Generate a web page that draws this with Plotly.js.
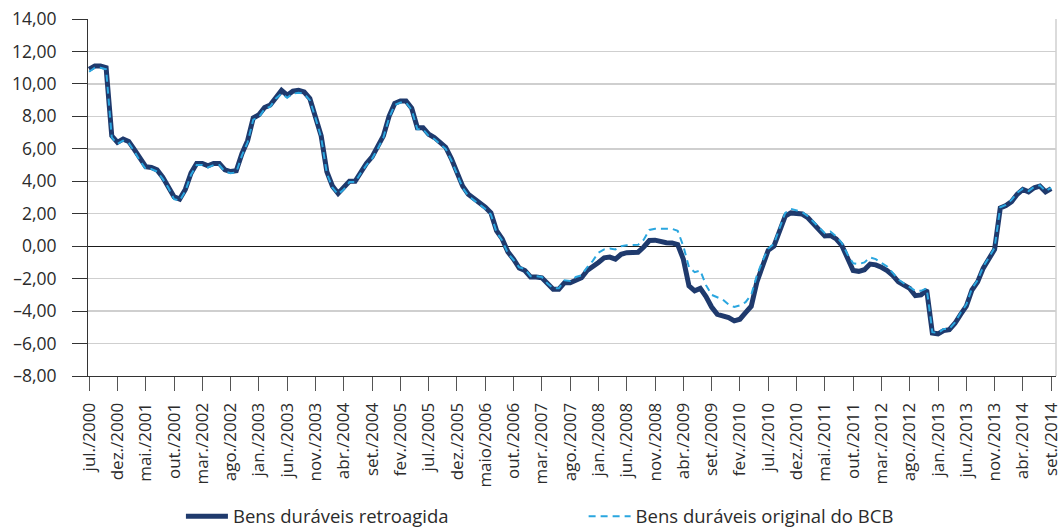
<!DOCTYPE html>
<html>
<head>
<meta charset="utf-8">
<script src="https://cdn.plot.ly/plotly-3.0.1.min.js"></script>
<style>html,body{margin:0;padding:0;background:#fff;}#chart{width:1061px;height:531px;}</style>
</head>
<body>
<div id="chart"></div>
<script>
// Monthly categories: jul/2000 .. set/2014
var startYear = 2000, startMonth = 7, nMonths = 171;
var months = [];
for (var k = 0; k < nMonths; k++) {
  var m = (startMonth - 1 + k) % 12 + 1;
  var y = startYear + Math.floor((startMonth - 1 + k) / 12);
  months.push(y + '-' + (m < 10 ? '0' + m : m));
}

var tickLabels = ['jul./2000','dez./2000','mai./2001','out./2001','mar./2002','ago./2002','jan./2003','jun./2003','nov./2003','abr./2004','set./2004','fev./2005','jul./2005','dez./2005','maio/2006','out./2006','mar./2007','ago./2007','jan./2008','jun./2008','nov./2008','abr./2009','set./2009','fev./2010','jul./2010','dez./2010','mai./2011','out./2011','mar./2012','ago./2012','jan./2013','jun./2013','nov./2013','abr./2014','set./2014'];

var retroagida = [
 10.9, 11.1, 11.1, 11.0, 6.8, 6.4, 6.6, 6.45, 5.95, 5.35,
 4.9, 4.85, 4.7, 4.25, 3.7, 3.05, 2.9, 3.5, 4.5, 5.1,
 5.1, 4.95, 5.1, 5.1, 4.7, 4.6, 4.65, 5.7, 6.5, 7.9,
 8.1, 8.55, 8.7, 9.2, 9.6, 9.3, 9.55, 9.6, 9.5, 9.1,
 8.0, 6.8, 4.6, 3.7, 3.25, 3.6, 4.0, 4.0, 4.6, 5.1,
 5.5, 6.1, 6.8, 8.0, 8.8, 8.95, 8.95, 8.5, 7.3, 7.3,
 6.9, 6.7, 6.4, 6.1, 5.4, 4.6, 3.7, 3.2, 2.95, 2.7,
 2.4, 2.05, 0.95, 0.45, -0.35, -0.8, -1.35, -1.5, -1.9, -1.9,
 -1.95, -2.3, -2.65, -2.65, -2.25, -2.25, -2.1, -1.95, -1.5, -1.2,
 -1.0, -0.72, -0.67, -0.8, -0.5, -0.4, -0.37, -0.37, -0.05, 0.35,
 0.37, 0.25, 0.21, 0.2, 0.1, -0.8, -2.45, -2.75, -2.6, -3.1,
 -3.75, -4.2, -4.28, -4.4, -4.6, -4.5, -4.1, -3.7, -2.2, -1.1,
 -0.25, 0.0, 0.95, 1.85, 2.05, 2.03, 1.98, 1.75, 1.4, 1.0,
 0.63, 0.66, 0.45, 0.05, -0.75, -1.5, -1.55, -1.45, -1.1, -1.15,
 -1.3, -1.5, -1.8, -2.2, -2.4, -2.6, -3.05, -3.0, -2.7, -5.35,
 -5.4, -5.2, -5.15, -4.75, -4.2, -3.7, -2.7, -2.2, -1.35, -0.8,
 -0.2, 2.35, 2.5, 2.75, 3.2, 3.5, 3.35, 3.6, 3.7, 3.35, 3.55
];

var originalBCB = [
 10.75, 11.0, 11.0, 10.9, 6.7, 6.3, 6.5, 6.35, 5.85, 5.25,
 4.75, 4.75, 4.6, 4.15, 3.6, 2.9, 2.8, 3.4, 4.4, 5.0,
 5.0, 4.85, 5.0, 5.0, 4.6, 4.5, 4.55, 5.6, 6.4, 7.8,
 7.95, 8.45, 8.6, 9.1, 9.4, 9.15, 9.4, 9.45, 9.4, 9.0,
 7.9, 6.7, 4.5, 3.6, 3.2, 3.5, 3.95, 3.95, 4.5, 5.0,
 5.4, 6.0, 6.7, 7.9, 8.7, 8.85, 8.85, 8.4, 7.2, 7.2,
 6.8, 6.6, 6.3, 6.0, 5.3, 4.5, 3.6, 3.1, 2.85, 2.6,
 2.3, 1.95, 0.85, 0.35, -0.45, -0.85, -1.3, -1.4, -1.85, -1.85,
 -1.9, -2.3, -2.6, -2.6, -2.1, -2.15, -1.9, -1.8, -1.3, -0.9,
 -0.4, -0.2, -0.15, -0.2, 0.0, 0.05, 0.08, 0.08, 0.4, 1.0,
 1.07, 1.07, 1.07, 1.07, 0.95, 0.0, -1.3, -1.6, -1.5, -2.4,
 -3.0, -3.15, -3.3, -3.6, -3.75, -3.65, -3.45, -3.0, -1.8, -0.9,
 -0.15, 0.15, 1.05, 2.05, 2.3, 2.2, 2.1, 1.85, 1.5, 1.1,
 0.8, 0.9, 0.6, 0.2, -0.5, -1.05, -1.1, -1.0, -0.7, -0.8,
 -1.0, -1.25, -1.65, -2.05, -2.3, -2.5, -2.75, -2.75, -2.6, -5.3,
 -5.35, -5.1, -5.1, -4.7, -4.1, -3.6, -2.6, -2.1, -1.25, -0.7,
 -0.1, 2.4, 2.55, 2.85, 3.3, 3.55, 3.4, 3.65, 3.75, 3.4, 3.6
];

var yTickVals = [14, 12, 10, 8, 6, 4, 2, 0, -2, -4, -6, -8];
var yTickText = ['14,00','12,00','10,00','8,00','6,00','4,00','2,00','0,00','\u20132,00','\u20134,00','\u20136,00','\u20138,00'];

var tickVals = [];
for (var t = 0; t < tickLabels.length; t++) tickVals.push(months[t * 5]);

var FONT = 'Open Sans, Noto Sans, sans-serif';

var traces = [
  {
    x: months, y: retroagida, type: 'scatter', mode: 'lines',
    name: 'Bens duráveis retroagida',
    line: {color: '#1f3a6d', width: 5, shape: 'linear'},
    legend: 'legend'
  },
  {
    x: months, y: originalBCB, type: 'scatter', mode: 'lines',
    name: 'Bens duráveis original do BCB',
    line: {color: '#2aa6df', width: 2, dash: '7px,5px'},
    legend: 'legend2'
  }
];

var layout = {
  width: 1061, height: 531,
  margin: {l: 88, r: 5, t: 19, b: 155, autoexpand: false},
  paper_bgcolor: '#ffffff', plot_bgcolor: '#ffffff',
  font: {family: FONT, color: '#2b2b2b', size: 17},
  showlegend: true,
  xaxis: {
    type: 'category',
    range: [-0.2, 170.85],
    automargin: false,
    tickmode: 'array', tickvals: tickVals, ticktext: tickLabels,
    tickangle: -90,
    ticks: 'outside', ticklen: 14, tickcolor: '#555', tickwidth: 1,
    ticklabelstandoff: 5,
    tickfont: {family: FONT, size: 17, color: '#2b2b2b'},
    showgrid: false, zeroline: false,
    showline: true, linecolor: '#333', linewidth: 1
  },
  yaxis: {
    range: [-8, 14],
    automargin: false,
    tickmode: 'array', tickvals: yTickVals, ticktext: yTickText,
    ticks: 'outside', ticklen: 15, tickcolor: '#333', tickwidth: 1,
    ticklabelstandoff: 12,
    tickfont: {family: FONT, size: 17.5, color: '#2b2b2b'},
    showgrid: true, gridcolor: '#cfcfcf', gridwidth: 1.5,
    zeroline: true, zerolinecolor: '#1a1a1a', zerolinewidth: 1.2,
    showline: true, linecolor: '#333', linewidth: 1
  },
  legend: {
    orientation: 'h', x: 0.096, xanchor: 'left',
    yref: 'container', y: 0.027, yanchor: 'middle',
    itemwidth: 42,
    font: {family: FONT, size: 18.5, color: '#2b2b2b'},
    bgcolor: 'rgba(0,0,0,0)'
  },
  legend2: {
    orientation: 'h', x: 0.512, xanchor: 'left',
    yref: 'container', y: 0.027, yanchor: 'middle',
    itemwidth: 42,
    font: {family: FONT, size: 18.5, color: '#2b2b2b'},
    bgcolor: 'rgba(0,0,0,0)'
  },
  shapes: [
    {type: 'line', xref: 'paper', yref: 'paper', x0: 1, x1: 1, y0: 0, y1: 1,
     line: {color: '#cfcfcf', width: 1.5}}
  ]
};

Plotly.newPlot('chart', traces, layout, {displayModeBar: false, staticPlot: true});
</script>
</body>
</html>
